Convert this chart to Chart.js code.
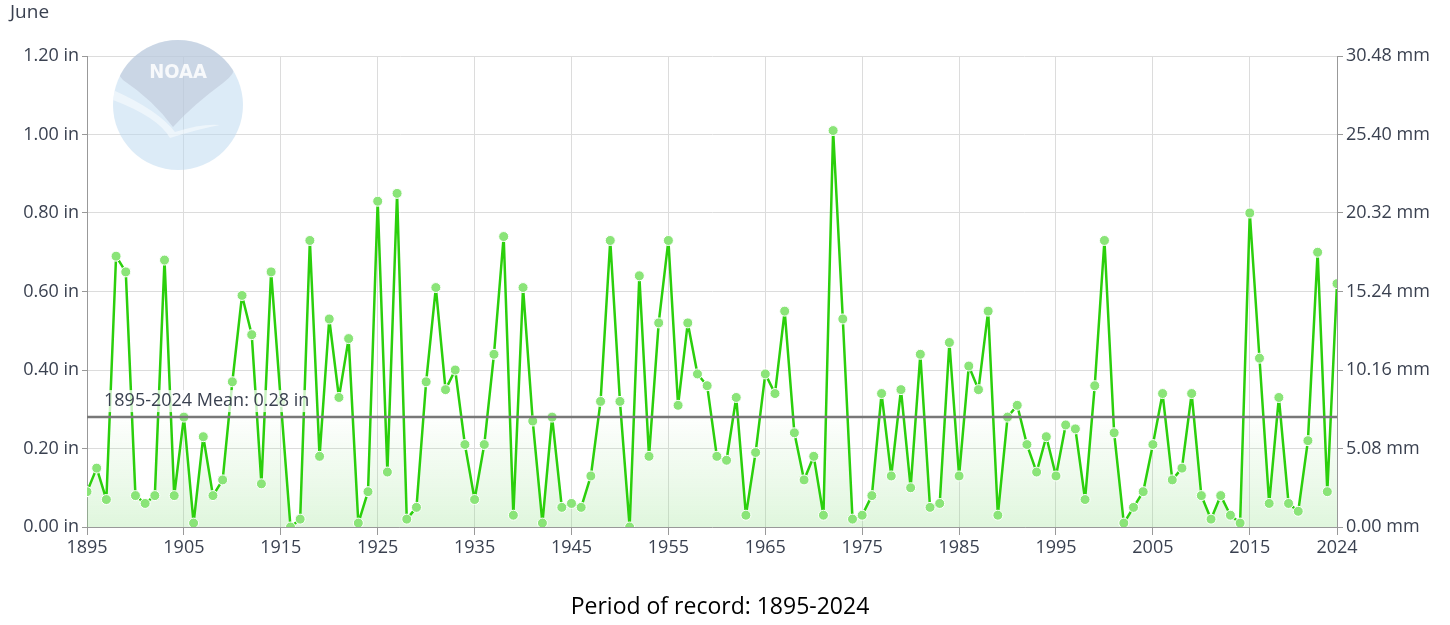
<!DOCTYPE html>
<html>
<head>
<meta charset="utf-8">
<script src="https://cdn.jsdelivr.net/npm/chart.js@4.4.1/dist/chart.umd.min.js"></script>
<style>
  html, body { margin: 0; padding: 0; background: #fff; }
  #wrap { width: 1450px; height: 625px; position: relative; }
</style>
</head>
<body>
<div id="wrap"><canvas id="precipChart" width="1450" height="625"></canvas></div>
<script>
// June precipitation, 1895-2024 (inches)
const firstYear = 1895;
const lastYear = 2024;
const years = [];
for (let y = firstYear; y <= lastYear; y++) years.push(y);

const precipIn = [
    0.09, 0.15, 0.07, 0.69, 0.65, 0.08, 0.06, 0.08, 0.68, 0.08,
    0.28, 0.01, 0.23, 0.08, 0.12, 0.37, 0.59, 0.49, 0.11, 0.65,
    0.32, 0.00, 0.02, 0.73, 0.18, 0.53, 0.33, 0.48, 0.01, 0.09,
    0.83, 0.14, 0.85, 0.02, 0.05, 0.37, 0.61, 0.35, 0.40, 0.21,
    0.07, 0.21, 0.44, 0.74, 0.03, 0.61, 0.27, 0.01, 0.28, 0.05,
    0.06, 0.05, 0.13, 0.32, 0.73, 0.32, 0.00, 0.64, 0.18, 0.52,
    0.73, 0.31, 0.52, 0.39, 0.36, 0.18, 0.17, 0.33, 0.03, 0.19,
    0.39, 0.34, 0.55, 0.24, 0.12, 0.18, 0.03, 1.01, 0.53, 0.02,
    0.03, 0.08, 0.34, 0.13, 0.35, 0.10, 0.44, 0.05, 0.06, 0.47,
    0.13, 0.41, 0.35, 0.55, 0.03, 0.28, 0.31, 0.21, 0.14, 0.23,
    0.13, 0.26, 0.25, 0.07, 0.36, 0.73, 0.24, 0.01, 0.05, 0.09,
    0.21, 0.34, 0.12, 0.15, 0.34, 0.08, 0.02, 0.08, 0.03, 0.01,
    0.80, 0.43, 0.06, 0.33, 0.06, 0.04, 0.22, 0.70, 0.09, 0.62
];

const meanIn = 0.28;
const meanLabel = '1895-2024 Mean: 0.28 in';
const monthTitle = 'June';
const footerText = 'Period of record: 1895-2024';

const xTickYears = [1895, 1905, 1915, 1925, 1935, 1945, 1955, 1965, 1975, 1985, 1995, 2005, 2015, 2024];
const inchTicks = [0, 0.2, 0.4, 0.6, 0.8, 1.0, 1.2];
const mmPerInch = 25.4;

const FONT = '"Open Sans", Lato, sans-serif';
const TEXT = '#3a4150';

// faint NOAA logo behind the plot + mean label + month title + footer
const decorPlugin = {
    id: 'decor',
    beforeDatasetsDraw(chart) {
        const ctx = chart.ctx;
        const cx = 178, cy = 105, r = 65;
        ctx.save();
        ctx.globalAlpha = 0.5;
        ctx.beginPath();
        ctx.arc(cx, cy, r, 0, Math.PI * 2);
        ctx.fillStyle = '#b9d8f0';
        ctx.fill();
        ctx.clip();
        ctx.beginPath();
        ctx.moveTo(cx - 45, cy - r);
        ctx.lineTo(cx + 45, cy - r);
        ctx.quadraticCurveTo(cx + 70, cy - 40, cx + 45, cy - 22);
        ctx.quadraticCurveTo(cx + 15, cy + 0, cx - 5, cy + 22);
        ctx.quadraticCurveTo(cx - 25, cy - 5, cx - 55, cy - 25);
        ctx.quadraticCurveTo(cx - 70, cy - 40, cx - 45, cy - r);
        ctx.closePath();
        ctx.fillStyle = '#b9c2d4';
        ctx.fill();
        ctx.beginPath();
        ctx.moveTo(cx - r, cy - 15);
        ctx.quadraticCurveTo(cx - 20, cy + 5, cx - 3, cy + 27);
        ctx.quadraticCurveTo(cx + 25, cy + 18, cx + 42, cy + 20);
        ctx.quadraticCurveTo(cx + 20, cy + 24, cx - 8, cy + 33);
        ctx.quadraticCurveTo(cx - 20, cy + 12, cx - r, cy - 5);
        ctx.closePath();
        ctx.fillStyle = '#ffffff';
        ctx.fill();
        ctx.globalAlpha = 0.85;
        ctx.font = 'bold 20px "DejaVu Sans Condensed", sans-serif';
        ctx.textAlign = 'center';
        ctx.textBaseline = 'middle';
        ctx.fillText('NOAA', cx, cy - 32);
        ctx.restore();
    },
    afterDatasetsDraw(chart) {
        const ctx = chart.ctx;
        const xs = chart.scales.x, ys = chart.scales.y;
        ctx.save();
        ctx.font = '18px ' + FONT;
        ctx.textBaseline = 'middle';
        ctx.textAlign = 'left';
        const tx = xs.getPixelForValue(firstYear) + 17;
        const ty = ys.getPixelForValue(meanIn) - 16;
        const w = ctx.measureText(meanLabel).width;
        ctx.fillStyle = 'rgba(255,255,255,0.75)';
        ctx.fillRect(tx - 3, ty - 11, w + 6, 22);
        ctx.fillStyle = TEXT;
        ctx.fillText(meanLabel, tx, ty);
        ctx.restore();
    },
    afterDraw(chart) {
        const ctx = chart.ctx;
        ctx.save();
        ctx.fillStyle = TEXT;
        ctx.font = '19px ' + FONT;
        ctx.textBaseline = 'middle';
        ctx.textAlign = 'left';
        ctx.fillText(monthTitle, 10, 13);
        ctx.fillStyle = '#000';
        ctx.font = '23px "Open Sans", sans-serif';
        ctx.textAlign = 'center';
        ctx.fillText(footerText, 720, 607);
        ctx.restore();
    }
};

const points = years.map((yr, i) => ({ x: yr, y: precipIn[i] }));
const meanPoints = [{ x: firstYear, y: meanIn }, { x: lastYear, y: meanIn }];

const precipChart = new Chart(document.getElementById('precipChart'), {
    type: 'line',
    data: {
        datasets: [{
            label: 'Mean',
            data: meanPoints,
            borderColor: '#787878',
            borderWidth: 2.5,
            pointRadius: 0,
            fill: false,
            order: 0
        }, {
            label: 'Precipitation',
            data: points,
            borderColor: '#2bcf0c',
            borderWidth: 2.5,
            borderJoinStyle: 'round',
            tension: 0,
            pointRadius: 5,
            pointBackgroundColor: '#8ae478',
            pointBorderColor: '#ffffff',
            pointBorderWidth: 1,
            fill: 'origin',
            backgroundColor: function (context) {
                const area = context.chart.chartArea;
                if (!area) return 'rgba(0,0,0,0)';
                const g = context.chart.ctx.createLinearGradient(0, area.bottom, 0, area.bottom - 115);
                g.addColorStop(0, 'rgba(130,220,120,0.25)');
                g.addColorStop(1, 'rgba(130,220,120,0)');
                return g;
            },
            order: 1
        }]
    },
    options: {
        responsive: false,
        animation: false,
        layout: { padding: { top: 56, left: 0, right: 0, bottom: 0 } },
        plugins: {
            legend: { display: false },
            tooltip: { enabled: false }
        },
        scales: {
            x: {
                type: 'linear',
                min: firstYear,
                max: lastYear,
                afterBuildTicks: axis => { axis.ticks = xTickYears.map(v => ({ value: v })); },
                afterFit: s => { s.height = 98; },
                ticks: {
                    color: TEXT,
                    font: { family: FONT, size: 18 },
                    maxRotation: 0,
                    autoSkip: false,
                    padding: 2,
                    callback: v => String(v)
                },
                grid: { color: '#dcdcdc', tickColor: '#999', tickLength: 8 },
                border: { color: '#999' }
            },
            y: {
                position: 'left',
                min: 0,
                max: 1.2,
                afterBuildTicks: axis => { axis.ticks = inchTicks.map(v => ({ value: v })); },
                afterFit: s => { s.width = 87; },
                ticks: {
                    color: TEXT,
                    font: { family: FONT, size: 18 },
                    padding: 3,
                    callback: v => v.toFixed(2) + ' in'
                },
                grid: { color: '#dcdcdc', tickColor: '#999', tickLength: 5 },
                border: { color: '#999' }
            },
            y2: {
                position: 'right',
                min: 0,
                max: 1.2 * mmPerInch,
                afterBuildTicks: axis => { axis.ticks = inchTicks.map(v => ({ value: v * mmPerInch })); },
                afterFit: s => { s.width = 113; },
                ticks: {
                    color: TEXT,
                    font: { family: FONT, size: 18 },
                    padding: 3,
                    callback: v => v.toFixed(2) + ' mm'
                },
                grid: { drawOnChartArea: false, tickColor: '#999', tickLength: 6 },
                border: { color: '#999' }
            }
        }
    },
    plugins: [decorPlugin]
});
</script>
</body>
</html>
